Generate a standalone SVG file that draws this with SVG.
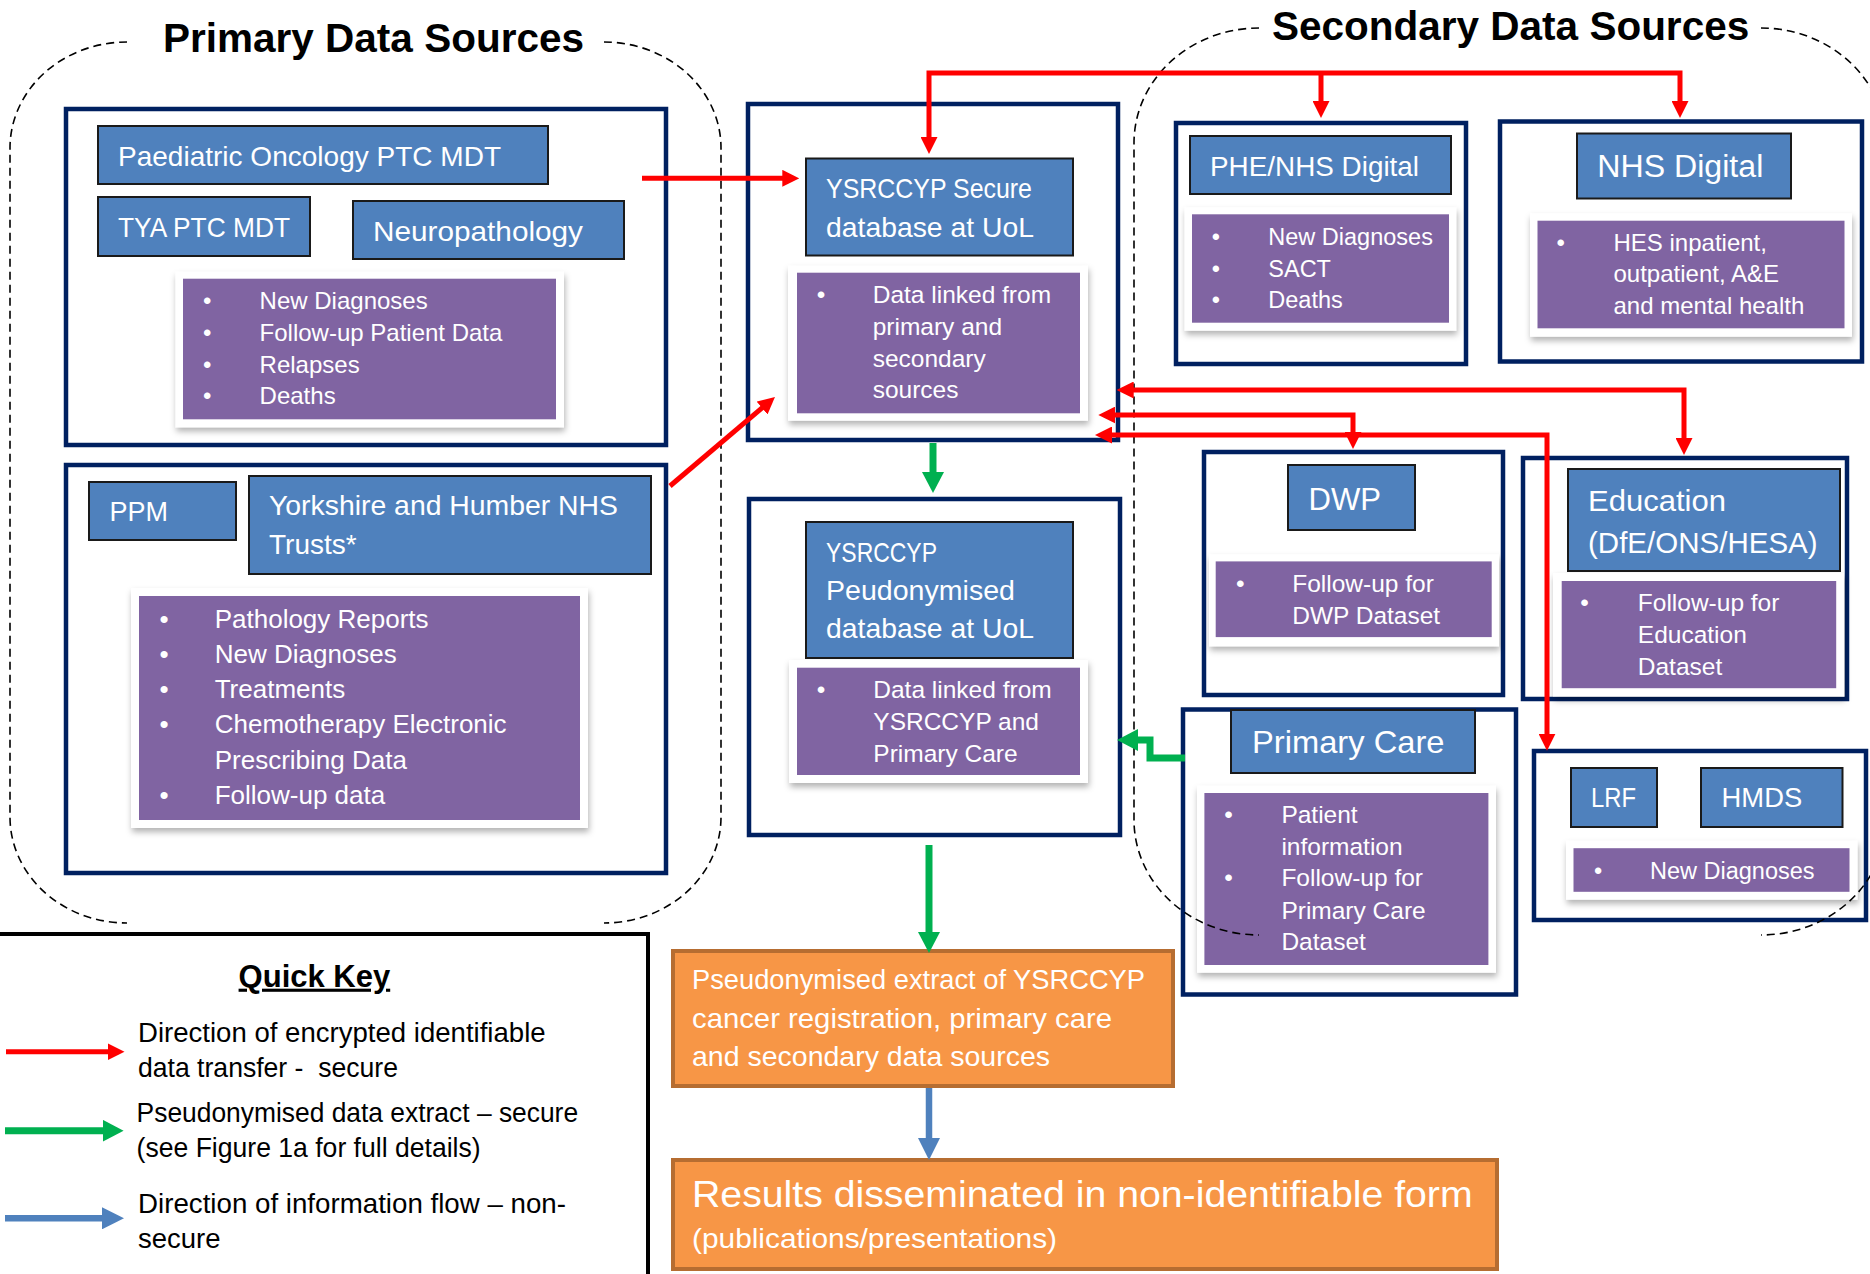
<svg xmlns="http://www.w3.org/2000/svg" width="1870" height="1274" viewBox="0 0 1870 1274">
<style>
text{font-family:"Liberation Sans",Arial,sans-serif;}
.outer{fill:#fff;stroke:#002060;stroke-width:4.5;}
.blue{fill:#4F81BD;stroke:#1a1a1a;stroke-width:2;}
.card{fill:#fff;filter:url(#sh);}
.purple{fill:#8064A2;}
.wt{fill:#fff;}
.bk{fill:#000;}
.org{fill:#F79646;stroke:#B66D31;stroke-width:4;}
.dash{fill:none;stroke:#000;stroke-width:1.6;stroke-dasharray:8 5;}
.red{fill:none;stroke:#FF0000;stroke-width:5;stroke-linejoin:miter;}
.grn{fill:none;stroke:#00B050;stroke-width:7;}
.blu{fill:none;stroke:#4F81BD;stroke-width:6.5;}
.ttl{font-weight:bold;font-size:40.5px;fill:#000;}
</style>
<defs>
<filter id="sh" x="-10%" y="-10%" width="120%" height="130%">
<feDropShadow dx="1" dy="4" stdDeviation="3" flood-color="#000" flood-opacity="0.3"/>
</filter>
<marker id="hr" viewBox="0 0 17 17" refX="11" refY="8.5" markerWidth="17" markerHeight="17" markerUnits="userSpaceOnUse" orient="auto-start-reverse"><path d="M0,0 L17,8.5 L0,17z" fill="#FF0000"/></marker>
<marker id="hg" viewBox="0 0 21 22" refX="13" refY="11" markerWidth="21" markerHeight="22" markerUnits="userSpaceOnUse" orient="auto-start-reverse"><path d="M0,0 L21,11 L0,22z" fill="#00B050"/></marker>
<marker id="hb" viewBox="0 0 22 22" refX="14" refY="11" markerWidth="22" markerHeight="22" markerUnits="userSpaceOnUse" orient="auto-start-reverse"><path d="M0,0 L22,11 L0,22z" fill="#4F81BD"/></marker>
</defs>
<rect width="1870" height="1274" fill="#fff"/>

<g id="titles">
<text class="ttl" x="163" y="52">Primary Data Sources</text>
<text class="ttl" x="1272" y="40">Secondary Data Sources</text>
</g>

<g id="primary-mdt">
<rect class="outer" x="66" y="109" width="600" height="336"/>
<rect class="blue" x="98" y="126" width="450" height="58"/>
<text class="wt" x="118" y="165.7" font-size="27.5" textLength="383" lengthAdjust="spacingAndGlyphs">Paediatric Oncology PTC MDT</text>
<rect class="blue" x="98" y="197" width="212" height="59"/>
<text class="wt" x="118" y="236.7" font-size="27.5" textLength="172" lengthAdjust="spacingAndGlyphs">TYA PTC MDT</text>
<rect class="blue" x="353" y="201" width="271" height="58"/>
<text class="wt" x="373" y="240.7" font-size="28" textLength="210" lengthAdjust="spacingAndGlyphs">Neuropathology</text>
<rect class="card" x="175.5" y="271.7" width="388.5" height="155.6"/>
<rect class="purple" x="183" y="278.7" width="373" height="140.6"/>
<g class="wt" font-size="24">
<text x="203" y="309.3">•</text><text x="259.6" y="309.3">New Diagnoses</text>
<text x="203" y="340.7">•</text><text x="259.6" y="340.7">Follow-up Patient Data</text>
<text x="203" y="372.7">•</text><text x="259.6" y="372.7">Relapses</text>
<text x="203" y="404.3">•</text><text x="259.6" y="404.3">Deaths</text>
</g>
</g>

<g id="primary-trusts">
<rect class="outer" x="66" y="465" width="600" height="408"/>
<rect class="blue" x="89" y="482" width="147" height="58"/>
<text class="wt" x="109.5" y="521" font-size="27">PPM</text>
<rect class="blue" x="249" y="476" width="402" height="98"/>
<text class="wt" x="269" y="515" font-size="28" textLength="349" lengthAdjust="spacingAndGlyphs">Yorkshire and Humber NHS</text>
<text class="wt" x="269" y="554" font-size="28">Trusts*</text>
<rect class="card" x="131" y="588" width="457" height="240"/>
<rect class="purple" x="139" y="596" width="441" height="224"/>
<g class="wt" font-size="26">
<text x="159.5" y="628.3">•</text><text x="214.7" y="628.3">Pathology Reports</text>
<text x="159.5" y="663.3">•</text><text x="214.7" y="663.3">New Diagnoses</text>
<text x="159.5" y="698.3">•</text><text x="214.7" y="698.3">Treatments</text>
<text x="159.5" y="733.3">•</text><text x="214.7" y="733.3">Chemotherapy Electronic</text>
<text x="214.7" y="769.3">Prescribing Data</text>
<text x="159.5" y="804">•</text><text x="214.7" y="804">Follow-up data</text>
</g>
</g>

<g id="secure-db">
<rect class="outer" x="748" y="104" width="370" height="336"/>
<rect class="blue" x="806" y="158.5" width="267" height="97"/>
<text class="wt" x="826" y="198.3" font-size="28.5" textLength="206" lengthAdjust="spacingAndGlyphs">YSRCCYP Secure</text>
<text class="wt" x="826" y="236.7" font-size="28.5" textLength="208" lengthAdjust="spacingAndGlyphs">database at UoL</text>
<rect class="card" x="788" y="265.7" width="300" height="155"/>
<rect class="purple" x="797" y="272.7" width="283" height="140.6"/>
<g class="wt" font-size="24.5">
<text x="816.7" y="303.3">•</text><text x="872.7" y="303.3">Data linked from</text>
<text x="872.7" y="335">primary and</text>
<text x="872.7" y="366.7">secondary</text>
<text x="872.7" y="398.3">sources</text>
</g>
</g>

<g id="pseudo-db">
<rect class="outer" x="749" y="499" width="371" height="336"/>
<rect class="blue" x="806" y="522" width="267" height="136"/>
<text class="wt" x="826" y="561.7" font-size="28.5" textLength="111" lengthAdjust="spacingAndGlyphs">YSRCCYP</text>
<text class="wt" x="826" y="600" font-size="28.5" textLength="189" lengthAdjust="spacingAndGlyphs">Peudonymised</text>
<text class="wt" x="826" y="638.3" font-size="28.5" textLength="208" lengthAdjust="spacingAndGlyphs">database at UoL</text>
<rect class="card" x="789" y="660" width="299" height="123"/>
<rect class="purple" x="797" y="667.7" width="283" height="107.3"/>
<g class="wt" font-size="24.5">
<text x="816.7" y="698.3">•</text><text x="873.3" y="698.3">Data linked from</text>
<text x="873.3" y="730">YSRCCYP and</text>
<text x="873.3" y="761.7">Primary Care</text>
</g>
</g>

<g id="phe-nhs-digital">
<rect class="outer" x="1176" y="123" width="290" height="241"/>
<rect class="blue" x="1190" y="136" width="261" height="58"/>
<text class="wt" x="1210" y="176" font-size="27.5" textLength="209" lengthAdjust="spacingAndGlyphs">PHE/NHS Digital</text>
<rect class="card" x="1184.6" y="207.3" width="271.6" height="123.4"/>
<rect class="purple" x="1192" y="214.3" width="257" height="108.4"/>
<g class="wt" font-size="23.5">
<text x="1211.8" y="245">•</text><text x="1268.3" y="245">New Diagnoses</text>
<text x="1211.8" y="276.7">•</text><text x="1268.3" y="276.7">SACT</text>
<text x="1211.8" y="308.3">•</text><text x="1268.3" y="308.3">Deaths</text>
</g>
</g>

<g id="nhs-digital">
<rect class="outer" x="1500" y="121.5" width="362" height="240"/>
<rect class="blue" x="1577" y="133.5" width="214" height="65"/>
<text class="wt" x="1597.3" y="176.7" font-size="31" textLength="166" lengthAdjust="spacingAndGlyphs">NHS Digital</text>
<rect class="card" x="1530" y="213.3" width="322" height="123.4"/>
<rect class="purple" x="1537.5" y="220.7" width="307" height="107.6"/>
<g class="wt" font-size="24">
<text x="1556.6" y="250.7">•</text><text x="1613.5" y="250.7">HES inpatient,</text>
<text x="1613.5" y="282.3">outpatient, A&amp;E</text>
<text x="1613.5" y="314">and mental health</text>
</g>
</g>

<g id="dwp">
<rect class="outer" x="1204" y="452" width="299" height="243"/>
<rect class="blue" x="1288" y="465" width="127" height="65"/>
<text class="wt" x="1308.6" y="509.6" font-size="31" textLength="72.5" lengthAdjust="spacingAndGlyphs">DWP</text>
<rect class="card" x="1209" y="554.3" width="290" height="92"/>
<rect class="purple" x="1215.7" y="561.4" width="276" height="75.7"/>
<g class="wt" font-size="24.5">
<text x="1236" y="591.8">•</text><text x="1292.2" y="591.8">Follow-up for</text>
<text x="1292.2" y="624">DWP Dataset</text>
</g>
</g>

<g id="education">
<rect class="outer" x="1523" y="458" width="324" height="241"/>
<rect class="blue" x="1568" y="469" width="272" height="102"/>
<text class="wt" x="1588" y="510.7" font-size="30" textLength="138" lengthAdjust="spacingAndGlyphs">Education</text>
<text class="wt" x="1588" y="552.5" font-size="30" textLength="229.6" lengthAdjust="spacingAndGlyphs">(DfE/ONS/HESA)</text>
<rect class="card" x="1553" y="573" width="291" height="123.4"/>
<rect class="purple" x="1561.7" y="581" width="274.5" height="107.2"/>
<g class="wt" font-size="24.5">
<text x="1580.3" y="610.7">•</text><text x="1637.8" y="610.7">Follow-up for</text>
<text x="1637.8" y="642.9">Education</text>
<text x="1637.8" y="675">Dataset</text>
</g>
</g>

<g id="primary-care">
<rect class="outer" x="1183" y="709.5" width="333" height="285"/>
<rect class="blue" x="1231" y="710" width="244" height="63"/>
<text class="wt" x="1252" y="752.5" font-size="32" textLength="192.5" lengthAdjust="spacingAndGlyphs">Primary Care</text>
<rect class="card" x="1197" y="785.7" width="299" height="187"/>
<rect class="purple" x="1204.4" y="793" width="284" height="172"/>
<g class="wt" font-size="24.5">
<text x="1224.3" y="823.2">•</text><text x="1281.4" y="823.2">Patient</text>
<text x="1281.4" y="855">information</text>
<text x="1224.3" y="886.4">•</text><text x="1281.4" y="886.4">Follow-up for</text>
<text x="1281.4" y="918.6">Primary Care</text>
<text x="1281.4" y="950">Dataset</text>
</g>
</g>

<g id="lrf-hmds">
<rect class="outer" x="1534" y="751" width="332" height="169"/>
<rect class="blue" x="1571" y="768" width="86" height="59"/>
<text class="wt" x="1591" y="807" font-size="27" textLength="45" lengthAdjust="spacingAndGlyphs">LRF</text>
<rect class="blue" x="1701" y="768" width="141.5" height="59"/>
<text class="wt" x="1721.6" y="807" font-size="27" textLength="80.6" lengthAdjust="spacingAndGlyphs">HMDS</text>
<rect class="card" x="1566" y="840.7" width="291.5" height="59"/>
<rect class="purple" x="1573.5" y="848.2" width="276" height="43.6"/>
<g class="wt" font-size="23.5">
<text x="1593.9" y="878.6">•</text><text x="1650" y="878.6">New Diagnoses</text>
</g>
</g>

<g id="pseudo-extract">
<rect class="org" x="673" y="951" width="500" height="135"/>
<g class="wt" font-size="27.5">
<text x="692" y="989.3" textLength="453" lengthAdjust="spacingAndGlyphs">Pseudonymised extract of YSRCCYP</text>
<text x="692" y="1028.3" textLength="420" lengthAdjust="spacingAndGlyphs">cancer registration, primary care</text>
<text x="692" y="1066" textLength="358" lengthAdjust="spacingAndGlyphs">and secondary data sources</text>
</g>
</g>

<g id="results">
<rect class="org" x="673" y="1160" width="824" height="109"/>
<text class="wt" x="692" y="1207.3" font-size="37" textLength="780.6" lengthAdjust="spacingAndGlyphs">Results disseminated in non-identifiable form</text>
<text class="wt" x="692" y="1248.3" font-size="28" textLength="365" lengthAdjust="spacingAndGlyphs">(publications/presentations)</text>
</g>

<g id="quick-key">
<rect x="-4" y="934" width="652" height="350" fill="#fff" stroke="#000" stroke-width="4"/>
<text class="bk" x="314.4" y="986.7" font-size="31" font-weight="bold" text-anchor="middle" text-decoration="underline">Quick Key</text>
<path class="red" d="M6,1051.7 H118.5" marker-end="url(#hr)"/>
<path class="grn" d="M5,1130.7 H115.6" stroke-width="6" marker-end="url(#hg)"/>
<path class="blu" d="M5,1218.3 H116" stroke-width="5.5" marker-end="url(#hb)"/>
<g class="bk" font-size="27.5">
<text x="138" y="1041.7" textLength="407.6" lengthAdjust="spacingAndGlyphs">Direction of encrypted identifiable</text>
<text x="138" y="1076.7" textLength="260" lengthAdjust="spacingAndGlyphs">data transfer -&#160; secure</text>
<text x="136.6" y="1121.7" textLength="441.5" lengthAdjust="spacingAndGlyphs">Pseudonymised data extract – secure</text>
<text x="136.6" y="1157.3" textLength="344" lengthAdjust="spacingAndGlyphs">(see Figure 1a for full details)</text>
<text x="138" y="1213.3" textLength="428" lengthAdjust="spacingAndGlyphs">Direction of information flow – non-</text>
<text x="138" y="1248.3">secure</text>
</g>
</g>

<g id="regions">
<path class="dash" d="M127,42 A117,106 0 0 0 10,148 L10,817 A117,106 0 0 0 127,923"/>
<path class="dash" d="M604,42 A117,106 0 0 1 721,148 L721,817 A117,106 0 0 1 604,923"/>
<path class="dash" d="M1259,28 A125,115 0 0 0 1134,143 L1134,820 A125,115 0 0 0 1259,935"/>
<path class="dash" d="M1761,28 A125,115 0 0 1 1886,143 L1886,820 A125,115 0 0 1 1761,935"/>
</g>

<g id="connectors">
<path class="red" d="M642,178.3 H793.3" marker-end="url(#hr)"/>
<path class="red" d="M670,486 L770.4,400.9" marker-end="url(#hr)"/>
<path class="red" d="M929,148 V73 H1680 V112" marker-start="url(#hr)" marker-end="url(#hr)"/>
<path class="red" d="M1321,73 V112" marker-end="url(#hr)"/>
<path class="red" d="M1122.7,390 H1684 V449" marker-start="url(#hr)" marker-end="url(#hr)"/>
<path class="red" d="M1104.3,415 H1353 V443" marker-start="url(#hr)" marker-end="url(#hr)"/>
<path class="red" d="M1101,435 H1547 V744.7" marker-start="url(#hr)" marker-end="url(#hr)"/>
<path class="grn" d="M933,443 V485" marker-end="url(#hg)"/>
<path class="grn" d="M1185,758 H1150 V740 H1125" marker-end="url(#hg)"/>
<path class="grn" d="M929,845 V945" marker-end="url(#hg)"/>
<path class="blu" d="M929,1088 V1152" marker-end="url(#hb)"/>
</g>
</svg>
